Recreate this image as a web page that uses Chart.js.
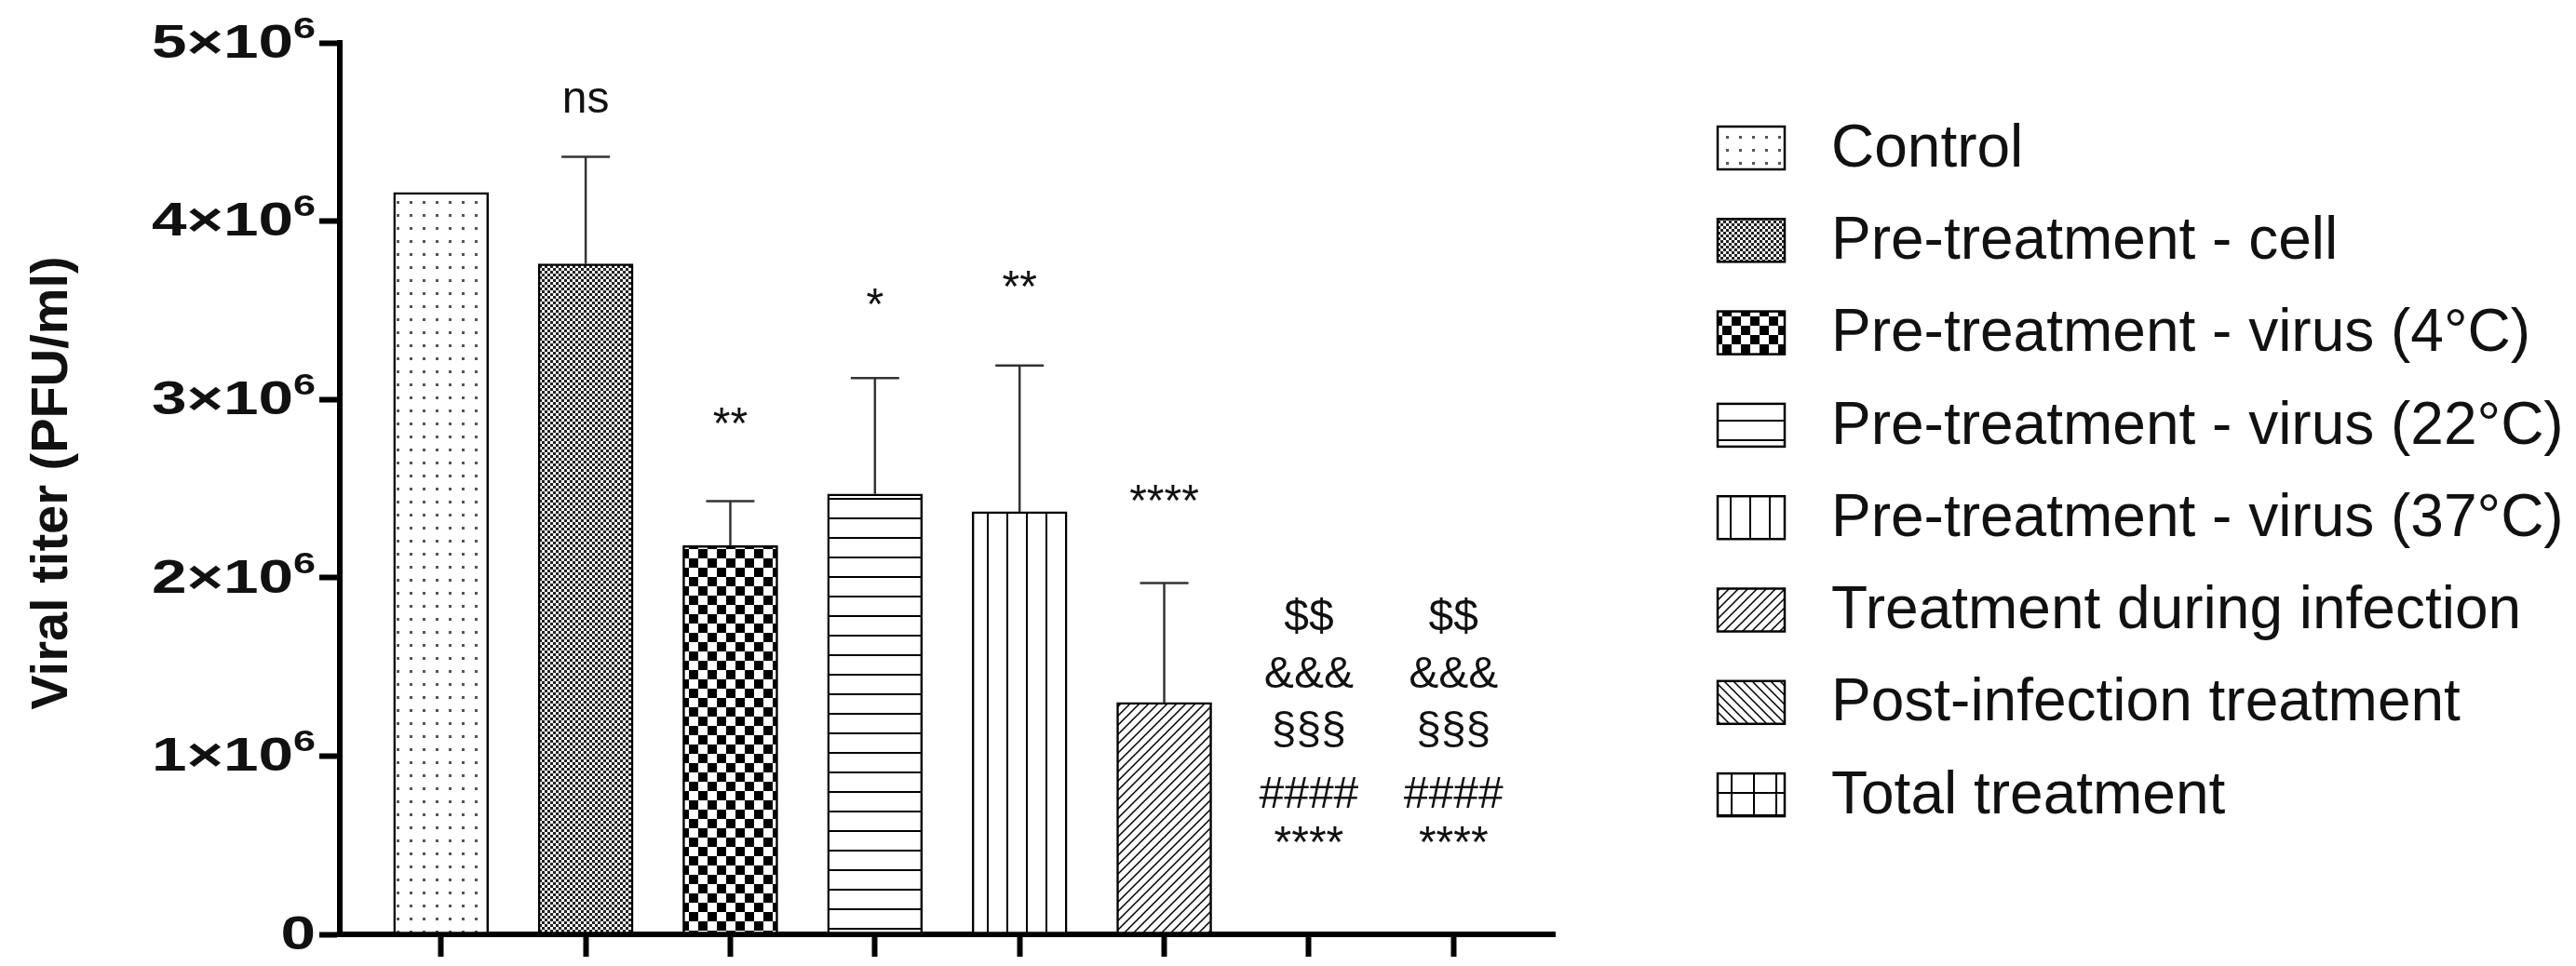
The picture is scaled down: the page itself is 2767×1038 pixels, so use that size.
<!DOCTYPE html>
<html>
<head>
<meta charset="utf-8">
<script src="https://cdn.jsdelivr.net/npm/chart.js@4/dist/chart.umd.min.js"></script>
<style>
  html, body { margin: 0; padding: 0; background: #fff; }
  #wrap { width: 2767px; height: 1038px; position: relative; }
</style>
</head>
<body>
<div id="wrap"><canvas id="titerChart"></canvas></div>
<script>
// Groups, in bar order
const groups = ['Control', 'Pre-treatment - cell', 'Pre-treatment - virus (4°C)',
    'Pre-treatment - virus (22°C)', 'Pre-treatment - virus (37°C)',
    'Treatment during infection', 'Post-infection treatment', 'Total treatment'];

// Mean viral titer (PFU/ml) and mean + SD (top of error bar)
const means = [4.16e6, 3.76e6, 2.18e6, 2.47e6, 2.37e6, 1.30e6, 0, 0];
const errTops = [null, 4.36e6, 2.43e6, 3.12e6, 3.19e6, 1.97e6, null, null];

// Y ticks: value, mantissa label, exponent
const yTicks = [0, 1e6, 2e6, 3e6, 4e6, 5e6];
const yTickLabels = ['0', '1×10', '2×10', '3×10', '4×10', '5×10'];
const yTickExp = ['', '6', '6', '6', '6', '6'];
const yTitle = 'Viral titer (PFU/ml)';

// Significance marks above each bar: [bar index, text, y in data units]
const sigMarks = [
    [1, 'ns', 4.68e6],
    [2, '**', 2.85e6],
    [3, '*', 3.52e6],
    [4, '**', 3.62e6],
    [5, '****', 2.42e6],
    [6, '$$', 1.77e6], [6, '&&&', 1.45e6], [6, '§§§', 1.14e6], [6, '####', 0.78e6], [6, '****', 0.50e6],
    [7, '$$', 1.77e6], [7, '&&&', 1.45e6], [7, '§§§', 1.14e6], [7, '####', 0.78e6], [7, '****', 0.50e6]
];

const FONT = '"Liberation Sans", Arial, sans-serif';

// build hatch / dot patterns for each group
function makePattern(kind) {
    const c = document.createElement('canvas');
    const g = c.getContext('2d');
    let s = 10;
    if (kind === 'dots') s = 14;
    if (kind === 'fine') s = 6;
    if (kind === 'check') s = 20;
    if (kind === 'hlines' || kind === 'vlines') s = 21;
    if (kind === 'grid') s = 24;
    c.width = s; c.height = s;
    g.fillStyle = '#fff';
    g.fillRect(0, 0, s, s);
    g.fillStyle = '#000';
    g.strokeStyle = '#000';
    if (kind === 'dots') {
        g.fillStyle = '#555';
        g.fillRect(6, 6, 3, 3);
    } else if (kind === 'fine') {
        g.fillStyle = '#222';
        g.fillRect(0, 0, 3, 3);
        g.fillRect(3, 3, 3, 3);
    } else if (kind === 'check') {
        g.fillRect(0, 0, 10, 10);
        g.fillRect(10, 10, 10, 10);
    } else if (kind === 'hlines') {
        g.fillRect(0, 10, s, 2);
    } else if (kind === 'vlines') {
        g.fillRect(10, 0, 2, s);
    } else if (kind === 'fwd') {
        g.lineWidth = 1.5;
        g.beginPath();
        g.moveTo(0, s); g.lineTo(s, 0);
        g.moveTo(-2, 2); g.lineTo(2, -2);
        g.moveTo(s - 2, s + 2); g.lineTo(s + 2, s - 2);
        g.stroke();
    } else if (kind === 'back') {
        g.lineWidth = 1.5;
        g.beginPath();
        g.moveTo(0, 0); g.lineTo(s, s);
        g.moveTo(-2, s - 2); g.lineTo(2, s + 2);
        g.moveTo(s - 2, -2); g.lineTo(s + 2, 2);
        g.stroke();
    } else if (kind === 'grid') {
        g.fillRect(11, 0, 2, s);
        g.fillRect(0, 11, s, 2);
    }
    return g.createPattern(c, 'repeat');
}

const patternKinds = ['dots', 'fine', 'check', 'hlines', 'vlines', 'fwd', 'back', 'grid'];
const patterns = patternKinds.map(makePattern);

// error bars, significance text, y labels and legend
const extrasPlugin = {
    id: 'extras',
    afterDatasetsDraw(chart) {
        const ctx = chart.ctx;
        const xs = chart.scales.x, ys = chart.scales.y;
        ctx.save();
        ctx.strokeStyle = '#333';
        ctx.lineWidth = 2.5;
        errTops.forEach((top, i) => {
            if (top === null) return;
            const x = xs.getPixelForValue(i + 1);
            const y0 = ys.getPixelForValue(means[i]);
            const y1 = ys.getPixelForValue(top);
            ctx.beginPath();
            ctx.moveTo(x, y0); ctx.lineTo(x, y1);
            ctx.moveTo(x - 26, y1); ctx.lineTo(x + 26, y1);
            ctx.stroke();
        });
        ctx.fillStyle = '#111';
        ctx.font = '48px ' + FONT;
        ctx.textAlign = 'center';
        ctx.textBaseline = 'middle';
        sigMarks.forEach(([i, txt, v]) => {
            ctx.fillText(txt, xs.getPixelForValue(i + 1), ys.getPixelForValue(v));
        });

        // y tick labels (wide bold, with superscript exponent)
        const labelRight = ys.left - 4;
        yTicks.forEach((v, i) => {
            const y = ys.getPixelForValue(v);
            ctx.save();
            ctx.translate(labelRight, y);
            ctx.scale(1.35, 1);
            ctx.textAlign = 'right';
            ctx.textBaseline = 'middle';
            let expW = 0;
            if (yTickExp[i]) {
                ctx.font = 'bold 32px ' + FONT;
                expW = ctx.measureText(yTickExp[i]).width;
                ctx.fillText(yTickExp[i], 0, -14);
            }
            ctx.font = 'bold 50px ' + FONT;
            ctx.fillText(yTickLabels[i], -expW, 2);
            ctx.restore();
        });

        // y title
        ctx.save();
        ctx.translate(57, (ys.top + ys.bottom) / 2 - 6);
        ctx.rotate(-Math.PI / 2);
        ctx.font = 'bold 56px ' + FONT;
        ctx.textAlign = 'center';
        ctx.textBaseline = 'middle';
        ctx.fillText(yTitle, 0, 0);
        ctx.restore();

        // legend
        const lx = 1845, ly0 = 159, step = 99.3, bw = 72, bh = 46;
        ctx.font = '64px ' + FONT;
        ctx.textAlign = 'left';
        groups.forEach((name, i) => {
            const cy = ly0 + i * step;
            ctx.fillStyle = patterns[i];
            ctx.fillRect(lx, cy - bh / 2, bw, bh);
            ctx.strokeStyle = '#000';
            ctx.lineWidth = 2.5;
            ctx.strokeRect(lx, cy - bh / 2, bw, bh);
            ctx.fillStyle = '#111';
            ctx.fillText(name, 1967, cy + 2);
        });
        ctx.restore();
    }
};

new Chart(document.getElementById('titerChart').getContext('2d'), {
    type: 'bar',
    data: {
        datasets: [{
            data: means.map((v, i) => ({ x: i + 1, y: v })),
            backgroundColor: patterns,
            borderColor: '#000',
            borderWidth: 2.5,
            borderSkipped: false,
            barThickness: 102
        }]
    },
    options: {
        responsive: true,
        maintainAspectRatio: false,
        animation: false,
        devicePixelRatio: 1,
        layout: { padding: { left: 343, top: 46, right: 1097, bottom: 10 } },
        plugins: { legend: { display: false }, tooltip: { enabled: false } },
        scales: {
            x: {
                type: 'linear',
                min: 0.3,
                max: 8.7,
                offset: false,
                afterBuildTicks: axis => { axis.ticks = groups.map((g, i) => ({ value: i + 1 })); },
                ticks: { display: false },
                grid: { offset: false, drawOnChartArea: false, color: '#000', tickLength: 24, tickWidth: 6 },
                border: { color: '#000', width: 6 }
            },
            y: {
                min: 0,
                max: 5e6,
                afterBuildTicks: axis => { axis.ticks = yTicks.map(v => ({ value: v })); },
                ticks: { display: false },
                grid: { drawOnChartArea: false, color: '#000', tickLength: 22, tickWidth: 6 },
                border: { color: '#000', width: 6 }
            }
        }
    },
    plugins: [extrasPlugin]
});
</script>
</body>
</html>
